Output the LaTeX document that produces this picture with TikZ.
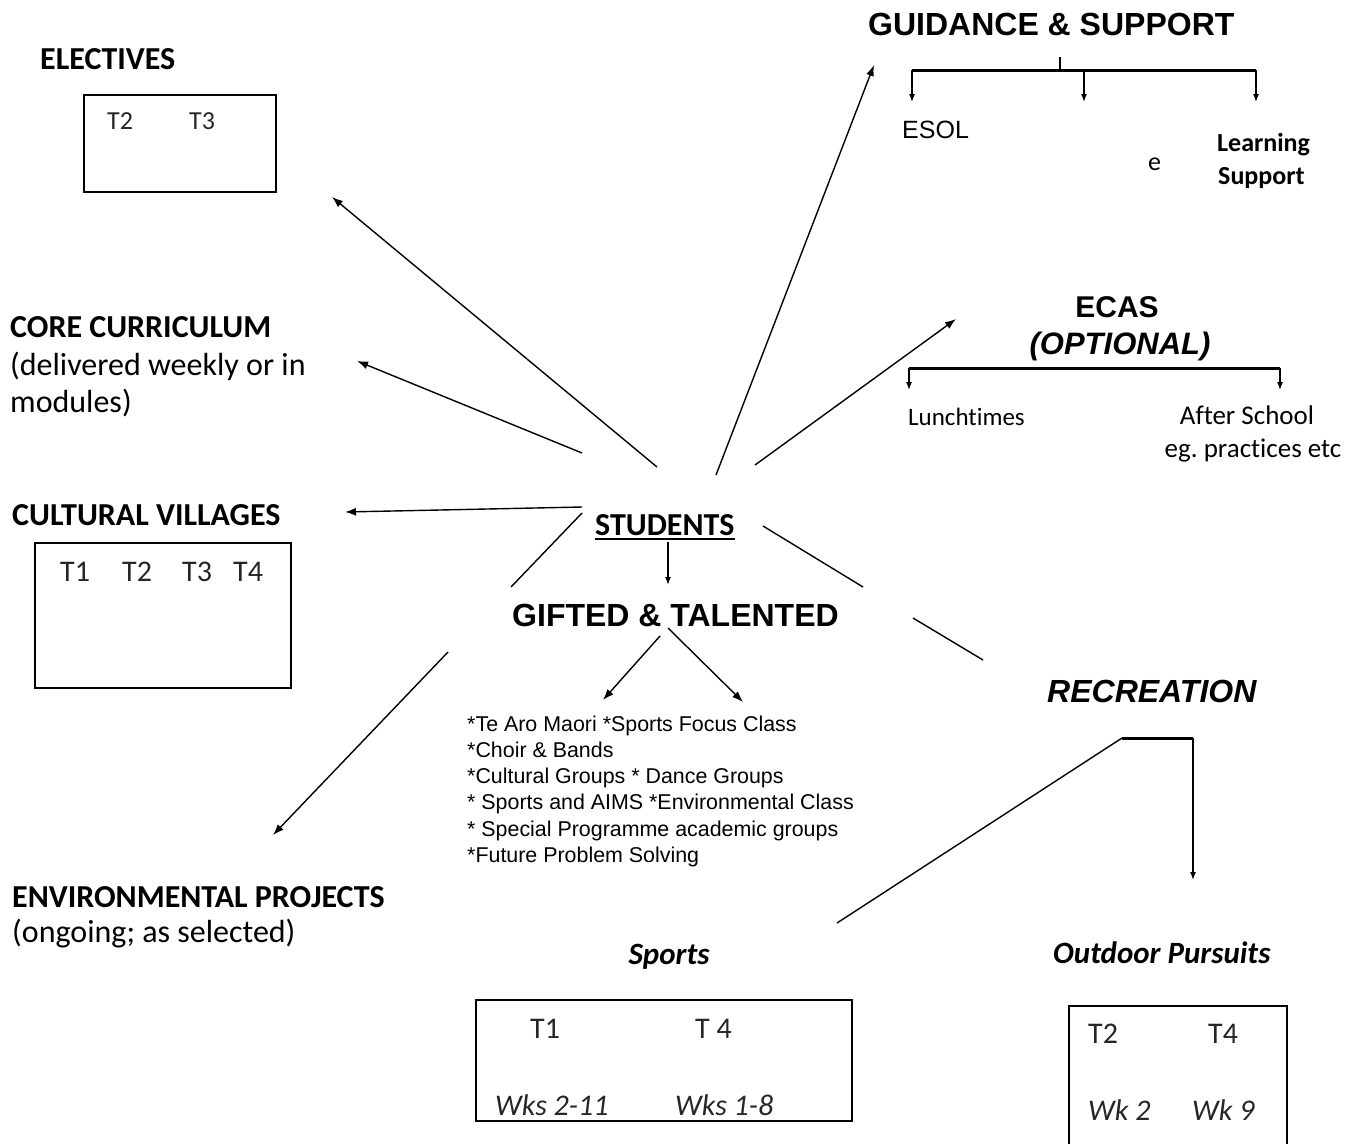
\documentclass[tikz,border=0pt]{standalone}
\usepackage{fontspec}
\setmainfont{Carlito}[Ligatures=NoCommon]
\newfontfamily\arialf{Liberation Sans}
\usetikzlibrary{arrows.meta}
\newcommand\setfs[1]{\fontsize{#1pt}{#1pt}\selectfont}
\frenchspacing
\tikzset{
  txt/.style={inner sep=0pt, anchor=base west},
  ctxt/.style={inner sep=0pt, anchor=base},
  boxnode/.style={draw, line width=2pt, inner sep=0pt, anchor=north west},
  conn/.style={line width=1.4pt},
  arr/.style={conn, -{Latex[length=11pt,width=8pt]}},
  brk/.style={line width=3pt},
  sarr/.style={line width=1.3pt, -{Latex[length=8pt,width=6pt]}},
  head/.style={txt, font=\setfs{32}\bfseries},
  sub/.style={txt, font=\setfs{32}},
  tt/.style={txt, font=\setfs{30}, text=black!85},
  ax/.style={font=\arialf\setfs{32}\bfseries},
}
\begin{document}
\begin{tikzpicture}[x=1pt,y=-1pt]
\useasboundingbox (0,0) rectangle (1356,1143);
\clip (0,0) rectangle (1356,1143);
\fill[white] (0,0) rectangle (1356,1143);

% ---------- left column ----------
\node[head] (elec) at (40,69) {ELECTIVES};
\node[boxnode, minimum width=192pt, minimum height=97pt] (elecbox) at (83,94) {};
\node[tt, font=\setfs{26}] (e1) at (107,129) {T2};
\node[tt, font=\setfs{26}] (e2) at (189,129) {T3};

\node[head] (core) at (10,337) {CORE CURRICULUM};
\node[sub] (core2) at (10,375) {(delivered weekly or in};
\node[sub] (core3) at (10,412) {modules)};

\node[head] (cult) at (12,525) {CULTURAL VILLAGES};
\node[boxnode, minimum width=256pt, minimum height=145pt] (cultbox) at (34,542) {};
\node[tt] (c1) at (60,581) {T1};
\node[tt] (c2) at (122,581) {T2};
\node[tt] (c3) at (182,581) {T3};
\node[tt] (c4) at (233,581) {T4};

\node[head] (env) at (12,907) {ENVIRONMENTAL PROJECTS};
\node[sub] (env2) at (12,942) {(ongoing; as selected)};

% ---------- guidance ----------
\node[txt, ax] (guid) at (868,35) {GUIDANCE \& SUPPORT};
\node[txt, font=\arialf\setfs{25}] (esol) at (902,138) {ESOL};
\node[txt, font=\setfs{26}] (ee) at (1148,170) {e};
\node[txt, font=\setfs{26}\bfseries] (learn) at (1217,151) {Learning};
\node[txt, font=\setfs{26}\bfseries] (supp) at (1218,184) {Support};
\coordinate (gl) at (912,70);
\coordinate (gm) at (1084,70);
\coordinate (gr) at (1256,70);
\coordinate (gt) at (1060,57);
\coordinate (gtb) at (1060,70);
\coordinate (glt) at (912,102);
\coordinate (gmt) at (1084,102);
\coordinate (grt) at (1256,102);
\draw[brk] (gl) -- (gr);
\draw[line width=2pt] (gt) -- (gtb);
\draw[sarr] (gl) -- (glt);
\draw[sarr] (gm) -- (gmt);
\draw[sarr] (gr) -- (grt);

% ---------- ECAS ----------
\node[ctxt, font=\arialf\setfs{30}\bfseries] (ecas) at (1117,317) {ECAS};
\node[ctxt, font=\arialf\setfs{31}\bfseries\itshape] (opt) at (1120,354) {(OPTIONAL)};
\node[txt, font=\setfs{25}] (lunch) at (908,425) {Lunchtimes};
\node[ctxt, font=\setfs{27}] (after) at (1247,424) {After School};
\node[ctxt, font=\setfs{27}] (after2) at (1253,457) {eg. practices etc};
\coordinate (el) at (909,368);
\coordinate (er) at (1280,368);
\coordinate (elt) at (909,390);
\coordinate (ert) at (1280,390);
\draw[brk] (el) -- (er);
\draw[sarr] (el) -- (elt);
\draw[sarr] (er) -- (ert);

% ---------- centre ----------
\node[txt, font=\setfs{32}\bfseries] (stud) at (595,535) {STUDENTS};
\draw[line width=2pt] ([yshift=-4pt]stud.base west) -- ([yshift=-4pt]stud.base east);
\node[txt, ax] (gift) at (512,626) {GIFTED \& TALENTED};
\begin{scope}[every node/.style={txt, font=\arialf\setfs{21.4}}]
\node (l1) at (467,731) {*Te Aro Maori *Sports Focus Class};
\node (l2) at (467,757) {*Choir \& Bands};
\node (l3) at (467,783) {*Cultural Groups * Dance Groups};
\node (l4) at (467,809) {* Sports and AIMS *Environmental Class};
\node (l5) at (467,836) {* Special Programme academic groups};
\node (l6) at (467,862) {*Future Problem Solving};
\end{scope}

\coordinate (sd1) at (668,542);
\coordinate (sd2) at (668,585);
\draw[sarr] (sd1) -- (sd2);
\coordinate (g1s) at (660,636);
\coordinate (g1t) at (603,700);
\coordinate (g2s) at (668,628);
\coordinate (g2t) at (743,702);
\draw[arr] (g1s) -- (g1t);
\draw[arr] (g2s) -- (g2t);

% spokes
\coordinate (s1) at (657,467);  \coordinate (t1) at (332,197);
\coordinate (s2) at (582,453);  \coordinate (t2) at (357,361);
\coordinate (s3) at (582,507);  \coordinate (t3) at (345,512);
\coordinate (s4) at (582,513);  \coordinate (m4) at (511,587);
\coordinate (s4b) at (448,652); \coordinate (t4) at (273,835);
\coordinate (s5) at (716,475);  \coordinate (t5) at (874,65);
\coordinate (s6) at (755,465);  \coordinate (t6) at (956,319);
\coordinate (s7) at (763,526);  \coordinate (m7) at (863,587);
\coordinate (s7b) at (913,618); \coordinate (t7) at (983,660);
\draw[arr] (s1) -- (t1);
\draw[arr] (s2) -- (t2);
\draw[arr] (s3) -- (t3);
\draw[conn] (s4) -- (m4);
\draw[arr] (s4b) -- (t4);
\draw[arr] (s5) -- (t5);
\draw[arr] (s6) -- (t6);
\draw[conn] (s7) -- (m7);
\draw[conn] (s7b) -- (t7);

% ---------- recreation ----------
\node[txt, font=\arialf\setfs{32}\bfseries\itshape] (rec) at (1047,702) {RECREATION};
\coordinate (rl) at (1122,738);
\coordinate (rr) at (1193,738);
\coordinate (rrt) at (1193,880);
\coordinate (rdl) at (837,923);
\draw[brk] (rl) -- (rr);
\draw[sarr] (rr) -- (rrt);
\draw[conn] (rl) -- (rdl);

\node[ctxt, font=\setfs{31}\bfseries\itshape] (sports) at (669,964) {Sports};
\node[boxnode, minimum width=376pt, minimum height=121pt] (sportbox) at (475,999) {};
\node[tt] (s1t) at (530,1038) {T1};
\node[tt] (s2t) at (695,1038) {T 4};
\node[tt, font=\setfs{30}\itshape] (s1w) at (495,1115) {Wks 2-11};
\node[tt, font=\setfs{30}\itshape] (s2w) at (675,1115) {Wks 1-8};

\node[txt, font=\setfs{31}\bfseries\itshape] (outd) at (1053,963) {Outdoor Pursuits};
\node[boxnode, minimum width=218pt, minimum height=170pt] (outbox) at (1068,1005) {};
\node[tt] (o1t) at (1088,1043) {T2};
\node[tt] (o2t) at (1208,1043) {T4};
\node[tt, font=\setfs{30}\itshape] (o1w) at (1088,1120) {Wk 2};
\node[tt, font=\setfs{30}\itshape] (o2w) at (1192,1120) {Wk 9};
\end{tikzpicture}
\end{document}
